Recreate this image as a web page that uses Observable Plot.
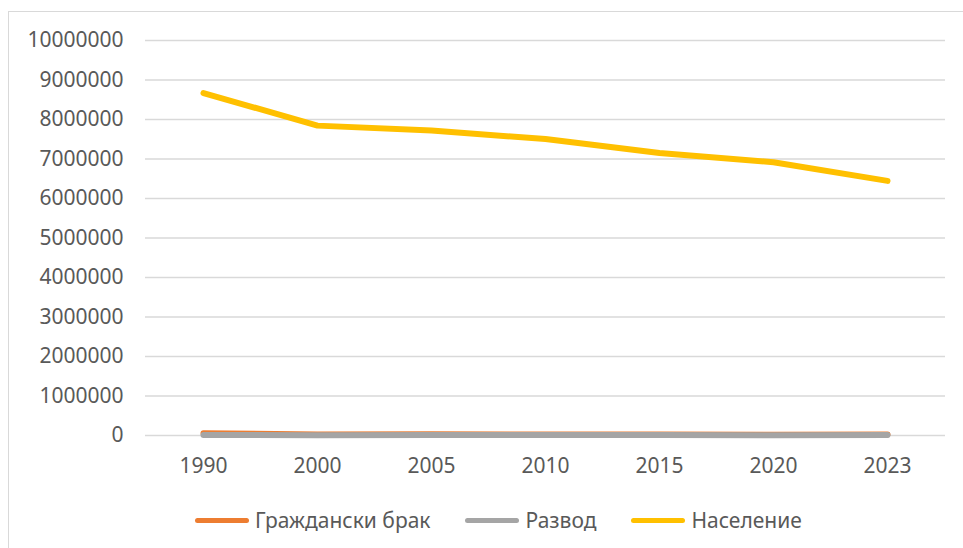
<!DOCTYPE html>
<html>
<head>
<meta charset="utf-8">
<script src="https://cdn.jsdelivr.net/npm/d3@7"></script>
<script src="https://cdn.jsdelivr.net/npm/@observablehq/plot@0.6"></script>
<style>
  html, body { margin: 0; padding: 0; background: #fff; overflow: hidden; }
  body { width: 963px; height: 548px; position: relative; font-family: "Noto Sans", "Open Sans", sans-serif; }
  #frame { position: absolute; left: 8px; top: 11px; width: 980px; height: 560px; border: 1.5px solid #d9d9d9; box-sizing: border-box; }
  #chart { position: absolute; left: 0; top: 0; }
  #legend { position: absolute; left: 195px; top: 505px; height: 30px; display: flex; align-items: center; font-size: 21px; color: #595959; white-space: nowrap; }
  .item { display: flex; align-items: center; margin-right: 35px; }
  .swatch { width: 54px; height: 5px; border-radius: 3px; margin-right: 6px; }
</style>
</head>
<body>
<div id="frame"></div>
<div id="chart"></div>
<div id="legend"></div>
<script>
const years = ["1990", "2000", "2005", "2010", "2015", "2020", "2023"];
const seriesNames = ["Граждански брак", "Развод", "Население"];
const seriesColors = ["#ED7D31", "#A5A5A5", "#FFC000"];
const marriages = [59874, 25582, 28565, 24286, 27066, 18426, 27000];
const divorces = [11300, 8900, 14600, 11000, 10200, 9000, 10000];
const population = [8669269, 7845000, 7718750, 7504868, 7153784, 6916548, 6445481];
const yTicks = [0, 1000000, 2000000, 3000000, 4000000, 5000000, 6000000, 7000000, 8000000, 9000000, 10000000];

const valuesBySeries = [marriages, divorces, population];
const data = [];
seriesNames.forEach((name, i) => {
  years.forEach((yr, j) => data.push({series: name, year: yr, value: valuesBySeries[i][j]}));
});

const chart = Plot.plot({
  width: 963,
  height: 495,
  marginLeft: 145,
  marginRight: 18,
  marginTop: 40,
  marginBottom: 60,
  style: {fontFamily: "'Noto Sans', 'Open Sans', sans-serif", fontSize: "21px", color: "#595959", background: "transparent"},
  x: {type: "point", domain: years, padding: 0.5, label: null, tickSize: 0, tickPadding: 23},
  y: {domain: [0, 10000000], ticks: yTicks, tickFormat: d3.format("d"), label: null, tickSize: 0, tickPadding: 22},
  color: {domain: seriesNames, range: seriesColors},
  marks: [
    Plot.ruleY(yTicks, {stroke: "#d9d9d9", strokeWidth: 1.5}),
    Plot.line(data, {x: "year", y: "value", z: "series", stroke: "series", strokeWidth: 6, strokeLinecap: "round", strokeLinejoin: "round"})
  ]
});
document.getElementById("chart").appendChild(chart);

const legend = document.getElementById("legend");
seriesNames.forEach((name, i) => {
  const item = document.createElement("div");
  item.className = "item";
  const sw = document.createElement("span");
  sw.className = "swatch";
  sw.style.background = seriesColors[i];
  const label = document.createElement("span");
  label.textContent = name;
  item.appendChild(sw);
  item.appendChild(label);
  legend.appendChild(item);
});
</script>
</body>
</html>
